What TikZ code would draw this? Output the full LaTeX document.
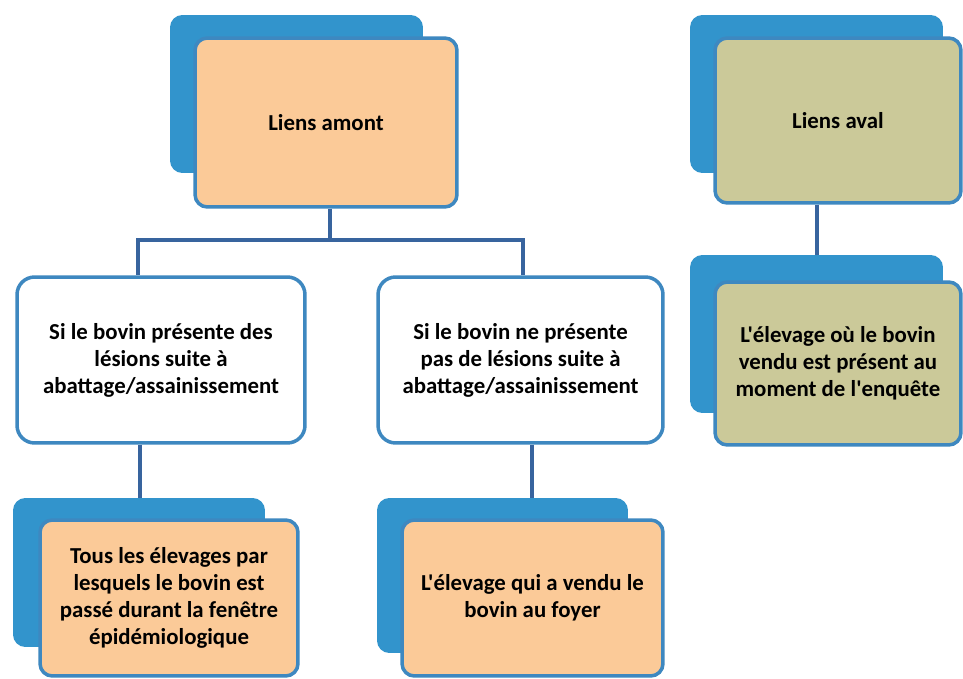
\documentclass[tikz,border=0pt]{standalone}
\usepackage{fontspec}
\setmainfont{Carlito}[Ligatures=TeXOff]
\usepackage{tikz}

\definecolor{tabblue}{RGB}{50,148,204}
\definecolor{edgeblue}{RGB}{62,136,192}
\definecolor{peach}{RGB}{251,202,152}
\definecolor{olive}{RGB}{203,201,153}
\definecolor{linkblue}{RGB}{56,100,158}

\tikzset{
  tab/.style = {fill=tabblue, rounded corners=7pt, inner sep=0pt},
  box/.style = {draw=edgeblue, line width=2pt, rounded corners=7pt, align=center,
                font=\bfseries\fontsize{13}{15.4}\selectfont},
  link/.style = {draw=linkblue, line width=2.2pt}
}

\begin{document}
\begin{tikzpicture}[x=0.02cm,y=-0.02cm]
  \clip(0,0) rectangle (963,679);
  \fill[white](0,0) rectangle (963,679);
  % liens amont
  \node[tab, minimum width=5.06cm, minimum height=3.16cm](tabA) at (296.5,94){};
  \node[box, fill=peach, minimum width=5.24cm, minimum height=3.38cm](amont) at (326,122.5){Liens amont};
  % liens aval
  \node[tab, minimum width=5.06cm, minimum height=3.16cm](tabB) at (816.5,94){};
  \node[box, fill=olive, minimum width=4.92cm, minimum height=3.30cm](aval) at (838,120.5){Liens aval};
  % conditions
  \node[box, fill=white, rounded corners=10pt, minimum width=5.76cm, minimum height=3.32cm](lesA) at (161,360)
    {Si le bovin présente des\\ lésions suite à\\ abattage/assainissement};
  \node[box, fill=white, rounded corners=10pt, minimum width=5.70cm, minimum height=3.32cm](lesB) at (520.5,360)
    {Si le bovin ne présente\\ pas de lésions suite à\\ abattage/assainissement};
  % elevages
  \node[tab, minimum width=5.04cm, minimum height=2.98cm](tabC) at (139,572.5){};
  \node[box, fill=peach, minimum width=5.16cm, minimum height=3.12cm](elevA) at (169,598)
    {Tous les élevages par\\ lesquels le bovin est\\ passé durant la fenêtre\\ épidémiologique};
  \node[tab, minimum width=5.02cm, minimum height=3.10cm](tabD) at (502.5,575.5){};
  \node[box, fill=peach, minimum width=5.22cm, minimum height=3.12cm](elevB) at (532.5,598)
    {L'élevage qui a vendu le\\ bovin au foyer};
  \node[tab, minimum width=5.06cm, minimum height=3.16cm](tabE) at (816.5,334){};
  \node[box, fill=olive, minimum width=4.92cm, minimum height=3.26cm](elevE) at (838,363.5)
    {L'élevage où le bovin\\ vendu est présent au\\ moment de l'enquête};
  % connectors
  \coordinate(kTop) at (330,240);
  \coordinate(kA) at (138,0);
  \coordinate(kB) at (523,0);
  \coordinate(kC) at (140,0);
  \coordinate(kD) at (532,0);
  \coordinate(kE) at (817,0);
  \draw[link](kTop |- amont.south) -- (kTop);
  \draw[link](kTop) -| (kA |- lesA.north);
  \draw[link](kTop) -| (kB |- lesB.north);
  \draw[link](kC |- lesA.south) -- (kC |- tabC.north);
  \draw[link](kD |- lesB.south) -- (kD |- tabD.north);
  \draw[link](kE |- aval.south) -- (kE |- tabE.north);
\end{tikzpicture}
\end{document}
